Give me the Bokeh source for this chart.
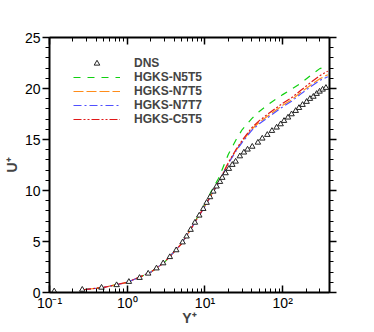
from bokeh.plotting import figure
from bokeh.models import (Range1d, LogAxis, LinearAxis, FixedTicker, SingleIntervalTicker,
                          CustomJSTickFormatter, Legend, LegendItem)
from bokeh.embed import file_html
from bokeh.resources import INLINE

# DNS data (y+, u+)
dns_y = [0.115, 0.264, 0.467, 0.73, 1.05, 1.44, 1.86, 2.38, 2.90, 3.53, 4.27, 5.15, 5.80, 6.53,
         7.42, 8.45, 9.51, 10.5, 11.6, 12.8, 14.1, 15.6, 16.7, 18.4, 20.3, 22.5, 24.8, 28.1,
         31.7, 35.3, 40.6, 48, 54.6, 63.4, 72.7, 83.5, 94, 104, 117, 130, 147, 162, 180, 203,
         224, 248, 273, 298, 326, 360]
dns_u = [0.12, 0.28, 0.48, 0.73, 1.05, 1.44, 1.86, 2.37, 2.87, 3.48, 4.15, 4.92, 5.5, 6.15,
         6.85, 7.55, 8.2, 8.8, 9.35, 9.9, 10.4, 10.85, 11.25, 11.7, 12.13, 12.52, 12.84, 13.36,
         13.73, 14.02, 14.3, 14.7, 15.1, 15.46, 15.85, 16.18, 16.5, 16.83, 17.16, 17.48, 17.81,
         18.1, 18.4, 18.7, 18.99, 19.2, 19.48, 19.7, 19.9, 20.07]

# HGKS results
yp = [0.27, 0.5, 1, 2, 3, 5, 7, 10, 12, 15, 20, 25, 30, 40, 50, 70, 100, 130, 170, 230, 300, 380]
u_n5t5 = [0.27, 0.5, 1.0, 1.98, 2.95, 4.8, 6.6, 8.65, 9.9, 11.2, 13.55, 14.95, 15.95, 17.05,
          17.75, 18.6, 19.4, 19.95, 20.5, 21.3, 21.95, 22.2]
u_n7t5 = [0.27, 0.5, 1.0, 1.98, 2.95, 4.78, 6.55, 8.5, 9.55, 10.8, 12.7, 13.9, 14.8, 16.0,
          16.7, 17.5, 18.35, 18.9, 19.6, 20.35, 20.95, 21.35]
u_n7t7 = [0.27, 0.5, 1.0, 1.98, 2.95, 4.78, 6.55, 8.45, 9.5, 10.75, 12.65, 13.85, 14.7, 15.9,
          16.55, 17.35, 18.2, 18.75, 19.45, 20.2, 20.8, 21.15]
u_c5t5 = [0.27, 0.5, 1.0, 1.98, 2.95, 4.78, 6.55, 8.5, 9.55, 10.8, 12.75, 14.0, 14.9, 16.15,
          16.85, 17.7, 18.55, 19.1, 19.8, 20.6, 21.25, 21.7]

x_major = [0.1, 1, 10, 100]
x_minor = [0.2, 0.3, 0.4, 0.5, 0.6, 0.7, 0.8, 0.9, 2, 3, 4, 5, 6, 7, 8, 9,
           20, 30, 40, 50, 60, 70, 80, 90, 200, 300, 400]

FONT = "Liberation Sans"

p = figure(frame_width=280, frame_height=255, x_axis_type="log",
           x_range=Range1d(0.1, 400), y_range=Range1d(0, 25),
           x_axis_label="Y\u207a", y_axis_label="U\u207a",
           output_backend="svg", toolbar_location=None,
           min_border_left=41, min_border_top=37, min_border_right=20, min_border_bottom=0)
p.outline_line_color = None
p.xgrid.visible = False
p.ygrid.visible = False

fmt = CustomJSTickFormatter(code="""
const e = Math.round(Math.log10(tick));
const m = {'-1': '10\u207b\u00b9', '0': '10\u2070', '1': '10\u00b9', '2': '10\u00b2'};
return m[String(e)] || '';
""")
blank = CustomJSTickFormatter(code="return ' ';")

def style_x(ax, labels):
    ax.ticker = FixedTicker(ticks=x_major, minor_ticks=x_minor)
    ax.axis_line_width = 2
    ax.major_tick_in = 7
    ax.major_tick_out = 0
    ax.minor_tick_in = 4
    ax.minor_tick_out = 0
    ax.major_tick_line_width = 1.5
    ax.minor_tick_line_width = 1
    if labels:
        ax.formatter = fmt
        ax.major_label_text_font = FONT
        ax.major_label_text_font_size = "14px"
        ax.major_label_text_color = "black"
        ax.major_label_standoff = 2
    else:
        ax.formatter = blank
        ax.major_label_text_font_size = "2px"
        ax.major_label_standoff = 0

def style_y(ax, labels):
    ax.ticker = SingleIntervalTicker(interval=5, num_minor_ticks=5)
    ax.axis_line_width = 2
    ax.major_tick_in = 0
    ax.major_tick_out = 7
    ax.minor_tick_in = 0
    ax.minor_tick_out = 4
    ax.major_tick_line_width = 1.5
    ax.minor_tick_line_width = 1
    if labels:
        ax.major_label_text_font = FONT
        ax.major_label_text_font_size = "14px"
        ax.major_label_text_color = "black"
        ax.major_label_standoff = 2
    else:
        ax.formatter = blank
        ax.major_label_text_font_size = "2px"
        ax.major_label_standoff = 0

xb = p.xaxis[0]
style_x(xb, True)
xb.axis_label_text_font = FONT
xb.axis_label_text_font_style = "bold"
xb.axis_label_text_font_size = "14px"
xb.axis_label_standoff = -4

yl = p.yaxis[0]
style_y(yl, True)
yl.axis_label_text_font = FONT
yl.axis_label_text_font_style = "bold"
yl.axis_label_text_font_size = "14px"
yl.axis_label_standoff = 2

xt = LogAxis()
style_x(xt, False)
p.add_layout(xt, "above")

yr = LinearAxis()
style_y(yr, False)
p.add_layout(yr, "right")

r1 = p.line(yp, u_n5t5, line_color="#10d010", line_dash="7 7", line_width=1.2)
r2 = p.line(yp, u_n7t5, line_color="#ff8c1a", line_dash="10 3", line_width=1.2)
r3 = p.line(yp, u_n7t7, line_color="#5050ff", line_dash="8 3 2 3", line_width=1.2)
r4 = p.line(yp, u_c5t5, line_color="#e01818", line_dash="8 2 2 2 2 2", line_width=1.2)
r0 = p.scatter(dns_y, dns_u, marker="triangle", size=5.5, fill_color="white",
               line_color="#222222", line_width=1)

legend = Legend(items=[LegendItem(label="DNS", renderers=[r0]),
                       LegendItem(label="HGKS-N5T5", renderers=[r1]),
                       LegendItem(label="HGKS-N7T5", renderers=[r2]),
                       LegendItem(label="HGKS-N7T7", renderers=[r3]),
                       LegendItem(label="HGKS-C5T5", renderers=[r4])],
                location=(24, 166))
legend.label_text_font = FONT
legend.label_text_font_style = "bold"
legend.label_text_font_size = "12px"
legend.glyph_width = 47
legend.glyph_height = 14
legend.label_height = 14
legend.label_standoff = 14
legend.spacing = 0
legend.padding = 0
legend.margin = 0
legend.border_line_color = None
legend.background_fill_alpha = 0
p.add_layout(legend, "center")

open("out.html", "w").write(file_html(p, INLINE))
